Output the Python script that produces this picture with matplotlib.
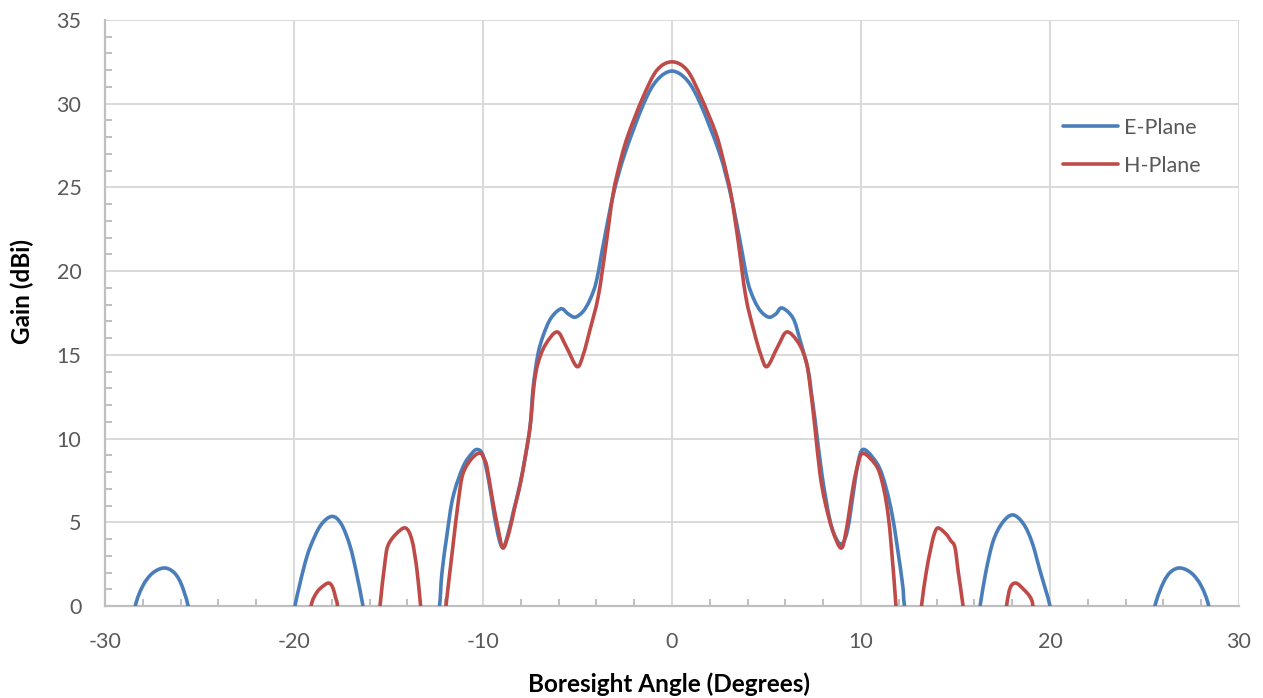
import matplotlib
matplotlib.use("Agg")
import matplotlib.pyplot as plt
from matplotlib.ticker import MultipleLocator
from matplotlib.path import Path
from matplotlib.patches import PathPatch
from matplotlib.lines import Line2D

# ---- data ----
e_angle = [-30.0, -28.7, -28.4, -28.0, -27.5, -26.9, -26.4, -26.0, -25.6, -25.3,
           -23.0, -20.25, -19.95, -19.5, -19.15, -18.6, -18.0, -17.5, -17.04, -16.7,
           -16.35, -16.05, -14.3, -12.55, -12.3, -12.17, -11.9, -11.59, -11.06, -10.6,
           -10.3, -10.0, -9.7, -9.4, -9.15, -8.94, -8.7, -8.4, -8.04, -7.75,
           -7.5, -7.35, -7.1, -6.8, -6.4, -5.87, -5.5, -5.13, -4.7, -4.34,
           -4.0, -3.6, -3.1, -2.5, -1.5, -0.8, 0.0,
           0.8, 1.5, 2.5, 3.1, 3.6, 4.0, 4.34, 4.7, 5.13, 5.5,
           5.82, 6.4, 6.77, 7.2, 7.4, 7.57, 7.94, 8.36, 8.7, 9.0,
           9.3, 9.6, 9.85, 10.1, 10.6, 11.1, 11.64, 12.17, 12.3, 12.6,
           14.3, 16.0, 16.3, 16.6, 17.0, 17.5, 18.04, 18.6, 19.05, 19.5,
           20.0, 20.3, 23.0, 25.25, 25.55, 26.0, 26.4, 26.9, 27.5, 28.0,
           28.4, 28.7, 30.0]
e_gain = [-8.0, -2.0, 0.0, 1.2, 1.95, 2.27, 2.05, 1.4, 0.0, -2.0,
          -10.0, -2.0, 0.0, 2.2, 3.5, 4.8, 5.35, 4.9, 3.6, 2.0,
          0.0, -2.0, -10.0, -2.0, 0.0, 2.0, 4.3, 6.5, 8.3, 9.1,
          9.35, 9.0, 7.5, 5.4, 4.0, 3.5, 4.2, 5.6, 7.3, 9.0,
          10.8, 13.0, 15.0, 16.2, 17.2, 17.75, 17.45, 17.25, 17.6, 18.3,
          19.4, 21.8, 24.6, 27.0, 30.0, 31.4, 31.95,
          31.4, 30.0, 27.1, 24.6, 21.8, 19.4, 18.3, 17.6, 17.25, 17.45,
          17.8, 17.2, 15.9, 14.1, 12.5, 11.1, 7.8, 5.1, 4.0, 3.7,
          4.6, 6.8, 8.6, 9.35, 8.9, 7.9, 5.5, 1.55, 0.0, -2.0,
          -10.0, -2.0, 0.0, 2.0, 3.9, 5.0, 5.44, 4.9, 3.8, 2.0,
          0.0, -2.0, -10.0, -2.0, 0.0, 1.4, 2.05, 2.27, 1.95, 1.2,
          0.0, -2.0, -8.0]

h_angle = [-30.0, -19.35, -19.1, -18.8, -18.45, -18.15, -17.95, -17.8, -17.7, -17.55,
           -16.5, -15.6, -15.45, -15.2, -15.03, -14.6, -14.1, -13.76, -13.5, -13.3,
           -13.1, -12.6, -12.15, -11.96, -11.6, -11.3, -11.06, -10.6, -10.16, -9.95,
           -9.79, -9.52, -9.2, -8.94, -8.6, -8.3, -8.04, -7.75, -7.5, -7.3,
           -7.09, -6.7, -6.08, -5.6, -5.03, -4.7, -4.34, -3.9, -3.5, -3.12,
           -2.7, -2.3, -1.53, -0.8, 0.0,
           0.8, 1.53, 2.3, 2.7, 3.12, 3.5, 3.9, 4.34, 4.7, 5.03, 5.6,
           6.08, 6.7, 7.1, 7.3, 7.55, 7.83, 8.1, 8.5, 8.94, 9.2,
           9.58, 9.8, 10.05, 10.5, 11.0, 11.43, 11.75, 11.85, 12.05, 12.6,
           13.05, 13.2, 13.45, 13.65, 13.85, 14.07, 14.5, 14.75, 14.97, 15.15,
           15.4, 15.6, 16.5, 17.5, 17.7, 17.9, 18.2, 18.6, 18.94, 19.1,
           19.3, 30.0]
h_gain = [-10.0, -2.0, 0.0, 0.8, 1.2, 1.37, 1.1, 0.5, 0.0, -2.0,
          -10.0, -2.0, 0.0, 2.5, 3.6, 4.3, 4.66, 3.94, 2.2, 0.0,
          -2.0, -8.0, -2.0, 0.0, 3.5, 6.3, 7.9, 8.8, 9.14, 8.8,
          8.3, 6.5, 4.6, 3.46, 4.5, 6.0, 7.2, 9.0, 10.8, 13.2,
          14.5, 15.6, 16.37, 15.5, 14.3, 15.0, 16.5, 18.5, 21.5, 24.6,
          26.7, 28.2, 30.4, 32.0, 32.5,
          32.0, 30.4, 28.3, 26.7, 24.6, 21.8, 18.5, 16.4, 15.0, 14.3, 15.5,
          16.37, 15.7, 14.6, 13.2, 10.8, 7.9, 6.2, 4.5, 3.46, 4.4,
          7.1, 8.3, 9.1, 8.8, 7.9, 5.5, 1.55, 0.0, -2.0, -8.0,
          -2.0, 0.0, 2.0, 3.2, 4.2, 4.66, 4.3, 3.9, 3.5, 2.0,
          0.0, -2.0, -10.0, -2.0, 0.0, 1.1, 1.37, 1.0, 0.55, 0.0,
          -2.0, -10.0]

series_names = ["E-Plane", "H-Plane"]
x_label = "Boresight Angle (Degrees)"
y_label = "Gain (dBi)"

# ---- style ----
plt.rcParams['font.family'] = ['Lato', 'DejaVu Sans']
plt.rcParams['axes.unicode_minus'] = False
tick_col = "#595959"
grid_col = "#d9d9d9"
blue = "#4a7ebb"
red = "#be4b48"
LW = 2.6


def smooth_path(xs, ys, k=1/6):
    """Excel-style smoothed line: cubic Bezier segments through the given points."""
    n = len(xs)
    verts = [(xs[0], ys[0])]
    codes = [Path.MOVETO]
    for i in range(n - 1):
        x0, y0 = xs[max(i - 1, 0)], ys[max(i - 1, 0)]
        x1, y1 = xs[i], ys[i]
        x2, y2 = xs[i + 1], ys[i + 1]
        x3, y3 = xs[min(i + 2, n - 1)], ys[min(i + 2, n - 1)]
        c1 = (x1 + (x2 - x0) * k, y1 + (y2 - y0) * k)
        c2 = (x2 - (x3 - x1) * k, y2 - (y3 - y1) * k)
        verts += [c1, c2, (x2, y2)]
        codes += [Path.CURVE4] * 3
    return Path(verts, codes)


fig = plt.figure(figsize=(12.63, 6.98), dpi=100)
ax = fig.add_axes([105/1263, 1-606/698, (1239-105)/1263, (606-20)/698])

for xs, ys, col, z in [(e_angle, e_gain, blue, 3), (h_angle, h_gain, red, 4)]:
    patch = PathPatch(smooth_path(xs, ys), facecolor='none', edgecolor=col,
                      lw=LW, capstyle='round', joinstyle='round', zorder=z,
                      transform=ax.transData)
    ax.add_patch(patch)

ax.set_xlim(-30, 30)
ax.set_ylim(0, 35)
ax.xaxis.set_major_locator(MultipleLocator(10))
ax.xaxis.set_minor_locator(MultipleLocator(2))
ax.yaxis.set_major_locator(MultipleLocator(5))
ax.yaxis.set_minor_locator(MultipleLocator(1))

ax.grid(True, which='major', color=grid_col, lw=1.4, zorder=0)
ax.set_axisbelow(True)
for s in ['top', 'right']:
    ax.spines[s].set_visible(False)
for s in ['left', 'bottom']:
    ax.spines[s].set_color("#bfbfbf")
    ax.spines[s].set_linewidth(1.6)

ax.tick_params(which='major', length=0, labelsize=15.5, labelcolor=tick_col)
ax.tick_params(axis='y', which='major', pad=17)
ax.tick_params(axis='x', which='major', pad=19)
ax.tick_params(which='minor', direction='in', length=5, width=1.4, color="#bfbfbf")

ax.set_xlabel(x_label, fontsize=17.5, fontweight='bold')
ax.set_ylabel(y_label, fontsize=17.5, fontweight='bold')
ax.xaxis.set_label_coords((669-105)/1134, (606-684)/586)
ax.yaxis.set_label_coords((22-105)/1134, (606-292)/586)
ax.xaxis.label.set_va('center')
ax.yaxis.label.set_va('center')

handles = [Line2D([], [], color=blue, lw=LW, solid_capstyle='round'),
           Line2D([], [], color=red, lw=LW, solid_capstyle='round')]
ax.legend(handles, series_names, loc='upper left',
          bbox_to_anchor=((1063-105)/1134, 1-(118-20)/586),
          frameon=False, fontsize=15.5, handlelength=2.55, handletextpad=0.3,
          labelspacing=0.82, borderpad=0, borderaxespad=0, labelcolor=tick_col)

fig.savefig("out.png", dpi=100)
